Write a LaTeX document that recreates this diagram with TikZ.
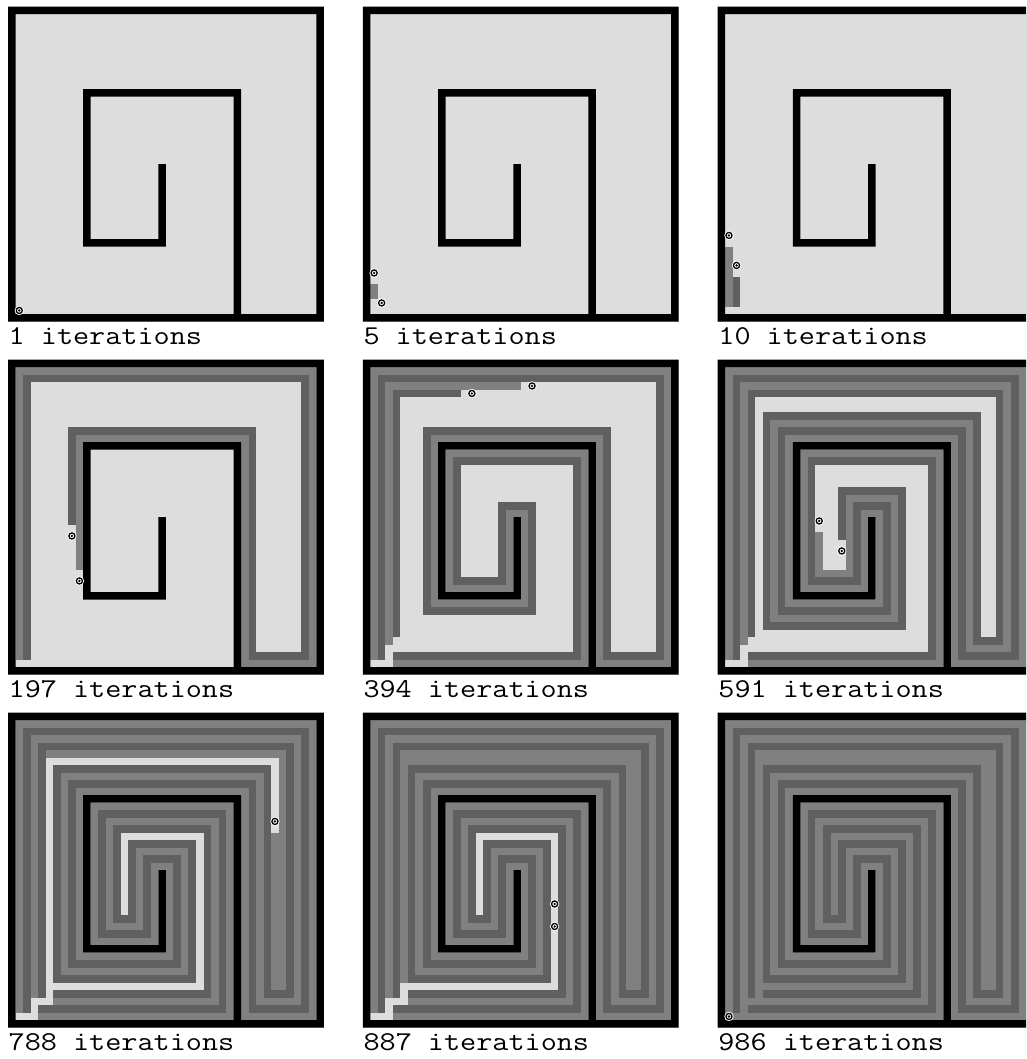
\documentclass[tikz,border=0pt]{standalone}
\usepackage{fontspec}
\definecolor{lt}{RGB}{221,221,221}
\definecolor{md}{RGB}{128,128,128}
\definecolor{dk}{RGB}{96,96,96}
\tikzset{
 lane/.style={line width=7.52pt, line cap=rect, line join=miter, miter limit=10},
 lbl/.style={anchor=base west, inner sep=0pt, font=\fontsize{27.2}{30}\selectfont\ttfamily},
}
% full layer loop k (cell coordinates)
\newcommand\lk[1]{(#1,41-#1) -- (#1,#1) -- (41-#1,#1) -- (41-#1,41-#1) -- (30+#1,41-#1) -- (30+#1,11-#1) -- (10-#1,11-#1) -- (10-#1,31+#1) -- (20+#1,31+#1) -- (20+#1,21-#1) -- (20-#1,21-#1) -- (20-#1,31-#1) -- (10+#1,31-#1) -- (10+#1,11+#1) -- (30-#1,11+#1) -- (30-#1,41-#1) -- cycle}
\newcommand\walls{\fill[black] (-0.5,-0.5) rectangle (41.5,0.5) (-0.5,40.5) rectangle (41.5,41.5) (-0.5,-0.5) rectangle (0.5,41.5) (40.5,-0.5) rectangle (41.5,41.5) (29.5,10.5) rectangle (30.5,41) (9.5,10.5) rectangle (30.5,11.5) (9.5,10.5) rectangle (10.5,31.5) (9.5,30.5) rectangle (20.5,31.5) (19.5,20.5) rectangle (20.5,31.5);}
\newcommand\agent[2]{\fill[white] (#1,#2) circle[radius=4.7pt]; \draw[black,line width=1.3pt] (#1,#2) circle[radius=3.05pt]; \fill[black] (#1,#2) circle[radius=1.3pt];}
\newcommand\pan[5]{%
 \begin{scope}[shift={(#1pt+3.76pt,-#2pt-3.75pt)},x=7.52pt,y=-7.5pt]
  \fill[lt] (-0.5,-0.5) rectangle (41.5,41.5);
  #4
  \walls
  #5
 \end{scope}
 \node[lbl] (lab#3) at (#1+0.5,#2+337.6) {\scalebox{1.15}[1]{#3 iterations}};
}
\newcommand\stair[1]{\draw[lane,#1] (1,40) -- (3,40) -- (3,38) -- (5,38) -- (5,37);}
\begin{document}
\begin{tikzpicture}[x=1pt,y=-1pt]
\useasboundingbox (0,0) rectangle (1026,1059);
\clip (0,0) rectangle (1026,1059);
% row 1
\pan{8}{6.7}{1}{}{\agent{1}{40}}
\pan{362.85}{6.7}{5}{\draw[lane,md] (1,37) -- (1,38);}{\agent{1}{35}\agent{2}{39}}
\pan{717.7}{6.7}{10}{\draw[lane,md] (1,32) -- (1,39); \draw[lane,dk] (2,36)--(2,39);}{\agent{1}{30}\agent{2}{34}}
% row 2
\pan{8}{359.7}{197}{%
 \draw[lane,md] (1,39) -- (1,1) -- (40,1) -- (40,40) -- (31,40) -- (31,10) -- (9,10) -- (9,27);
 \draw[lane,dk] (2,39) -- (2,2) -- (39,2) -- (39,39) -- (32,39) -- (32,9) -- (8,9) -- (8,21);
}{\agent{8}{23}\agent{9}{29}}
\pan{362.85}{359.7}{394}{%
 \draw[lane,md] \lk{1}; \draw[lane,dk] \lk{2};
 \draw[lane,md] (3,37) -- (3,3) -- (20,3);
 \draw[lane,dk] (4,36) -- (4,4) -- (12,4);
 \draw[lane,lt] (1,40) -- (3,40) -- (3,39);
}{\agent{22}{3}\agent{14}{4}}
\pan{717.7}{359.7}{591}{%
 \draw[lane,md] \lk{1}; \draw[lane,dk] \lk{2};
 \draw[lane,md] (3,37) -- (3,3) -- (38,3) -- (38,38) -- (33,38) -- (33,8) -- (7,8) -- (7,34) -- (23,34) -- (23,18) -- (17,18) -- (17,28) -- (13,28) -- (13,23);
 \draw[lane,dk] (4,36) -- (4,4) -- (37,4) -- (37,37) -- (34,37) -- (34,7) -- (6,7) -- (6,35) -- (24,35) -- (24,17) -- (16,17) -- (16,23);
 \stair{lt}
}{\agent{13}{21}\agent{16}{25}}
% row 3
\pan{8}{712.7}{788}{%
 \draw[lane,md] \lk{1}; \draw[lane,dk] \lk{2}; \draw[lane,md] \lk{3}; \draw[lane,dk] \lk{4};
 \draw[lane,md] (5,5) -- (36,5) -- (36,36) -- (35,36) -- (35,16);
 \stair{lt}
}{\agent{35}{14}}
\pan{362.85}{712.7}{887}{%
 \draw[lane,md] \lk{1}; \draw[lane,dk] \lk{2}; \draw[lane,md] \lk{3}; \draw[lane,dk] \lk{4};
 \draw[lane,md] (5,5) -- (36,5) -- (36,36) -- (35,36) -- (35,6) -- (5,6) -- (5,35);
 \stair{lt}
}{\agent{25}{25}\agent{25}{28}}
\pan{717.7}{712.7}{986}{%
 \draw[lane,md] \lk{1}; \draw[lane,dk] \lk{2}; \draw[lane,md] \lk{3}; \draw[lane,dk] \lk{4};
 \draw[lane,md] (5,36) -- (5,5) -- (36,5) -- (36,36) -- (35,36) -- (35,6) -- (5,6);
 \draw[lane,md] (5,36) -- (25,36) -- (25,16) -- (15,16) -- (15,26);
 \stair{md}
}{\agent{1}{40}}
\end{tikzpicture}
\end{document}
